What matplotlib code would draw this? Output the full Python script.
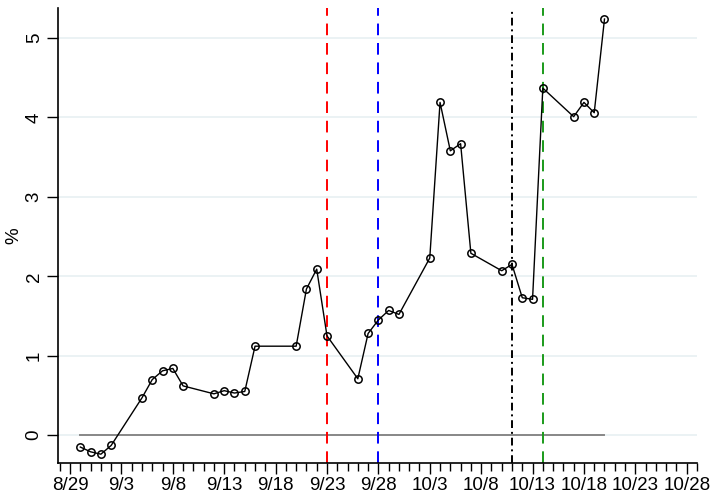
import matplotlib
matplotlib.use("Agg")
import matplotlib.pyplot as plt
import matplotlib.dates as mdates
from matplotlib.ticker import FuncFormatter
import numpy as np
import pandas as pd

plt.rcParams['font.family'] = ['Liberation Sans', 'DejaVu Sans']

# Daily series (%)
dates = ["2020-08-30", "2020-08-31", "2020-09-01", "2020-09-02", "2020-09-05",
         "2020-09-06", "2020-09-07", "2020-09-08", "2020-09-09", "2020-09-12",
         "2020-09-13", "2020-09-14", "2020-09-15", "2020-09-16", "2020-09-20",
         "2020-09-21", "2020-09-22", "2020-09-23", "2020-09-26", "2020-09-27",
         "2020-09-28", "2020-09-29", "2020-09-30", "2020-10-03", "2020-10-04",
         "2020-10-05", "2020-10-06", "2020-10-07", "2020-10-10", "2020-10-11",
         "2020-10-12", "2020-10-13", "2020-10-14", "2020-10-17", "2020-10-18",
         "2020-10-19", "2020-10-20"]
values = [-0.15, -0.21, -0.24, -0.13, 0.47,
          0.70, 0.81, 0.84, 0.62, 0.52,
          0.56, 0.53, 0.55, 1.12, 1.12,
          1.84, 2.09, 1.25, 0.71, 1.28,
          1.45, 1.57, 1.52, 2.23, 4.19,
          3.58, 3.67, 2.29, 2.07, 2.15,
          1.73, 1.71, 4.37, 4.01, 4.19,
          4.06, 5.24]

# Event markers
event_dates = ["2020-09-23", "2020-09-28", "2020-10-11", "2020-10-14"]
event_colors = ["#ff0000", "#0000ff", "#000000", "#1a9a1a"]
event_styles = [(0, (6, 4)), (0, (6, 4)), (0, (4, 2, 1, 2)), (0, (6, 4))]

# Reference line at zero
ref_start, ref_end = "2020-08-30", "2020-10-20"

# Axis ticks
tick_dates = pd.date_range("2020-08-29", "2020-10-28", freq="5D")
y_ticks = [0, 1, 2, 3, 4, 5]

x = pd.to_datetime(dates)

fig = plt.figure(figsize=(7.11, 4.93), dpi=100)
ax = fig.add_axes([0.0816, 0.061, 0.8987, 0.923])

for yt in y_ticks:
    ax.axhline(yt, color="#e8f0f2", lw=1.2, zorder=0)

ax.plot(pd.to_datetime([ref_start, ref_end]), [0, 0], color="#888888", lw=1.4, zorder=1)

for d, c, ls in zip(event_dates, event_colors, event_styles):
    ax.axvline(pd.Timestamp(d), color=c, lw=1.4, linestyle=ls, zorder=2)

ax.plot(x, values, color="black", lw=1.0, marker="o", markersize=5.3,
        markerfacecolor="none", markeredgecolor="black", markeredgewidth=1.1, zorder=3)

ax.set_xlim(pd.Timestamp("2020-08-29") - pd.Timedelta(days=1.17),
            pd.Timestamp("2020-08-29") + pd.Timedelta(days=61))
ax.set_ylim(-0.35, 5.38)

ax.set_xticks(tick_dates)
ax.xaxis.set_minor_locator(mdates.DayLocator())
ax.xaxis.set_major_formatter(FuncFormatter(
    lambda v, p: f"{mdates.num2date(v).month}/{mdates.num2date(v).day}"))
ax.set_yticks(y_ticks)

ax.tick_params(axis="x", which="major", length=8, width=1, labelsize=13.5, pad=2)
ax.tick_params(axis="x", which="minor", length=6, width=1)
ax.tick_params(axis="y", length=8, width=1, labelsize=13.5, pad=3)
for lab in ax.get_yticklabels():
    lab.set_rotation(90)
    lab.set_va("center")

ax.set_ylabel("%", fontsize=13.5)
ax.yaxis.set_label_coords(-0.056, 0.5)

for s in ["top", "right"]:
    ax.spines[s].set_visible(False)
for s in ["left", "bottom"]:
    ax.spines[s].set_linewidth(1.2)

fig.savefig("out.png", dpi=100)
